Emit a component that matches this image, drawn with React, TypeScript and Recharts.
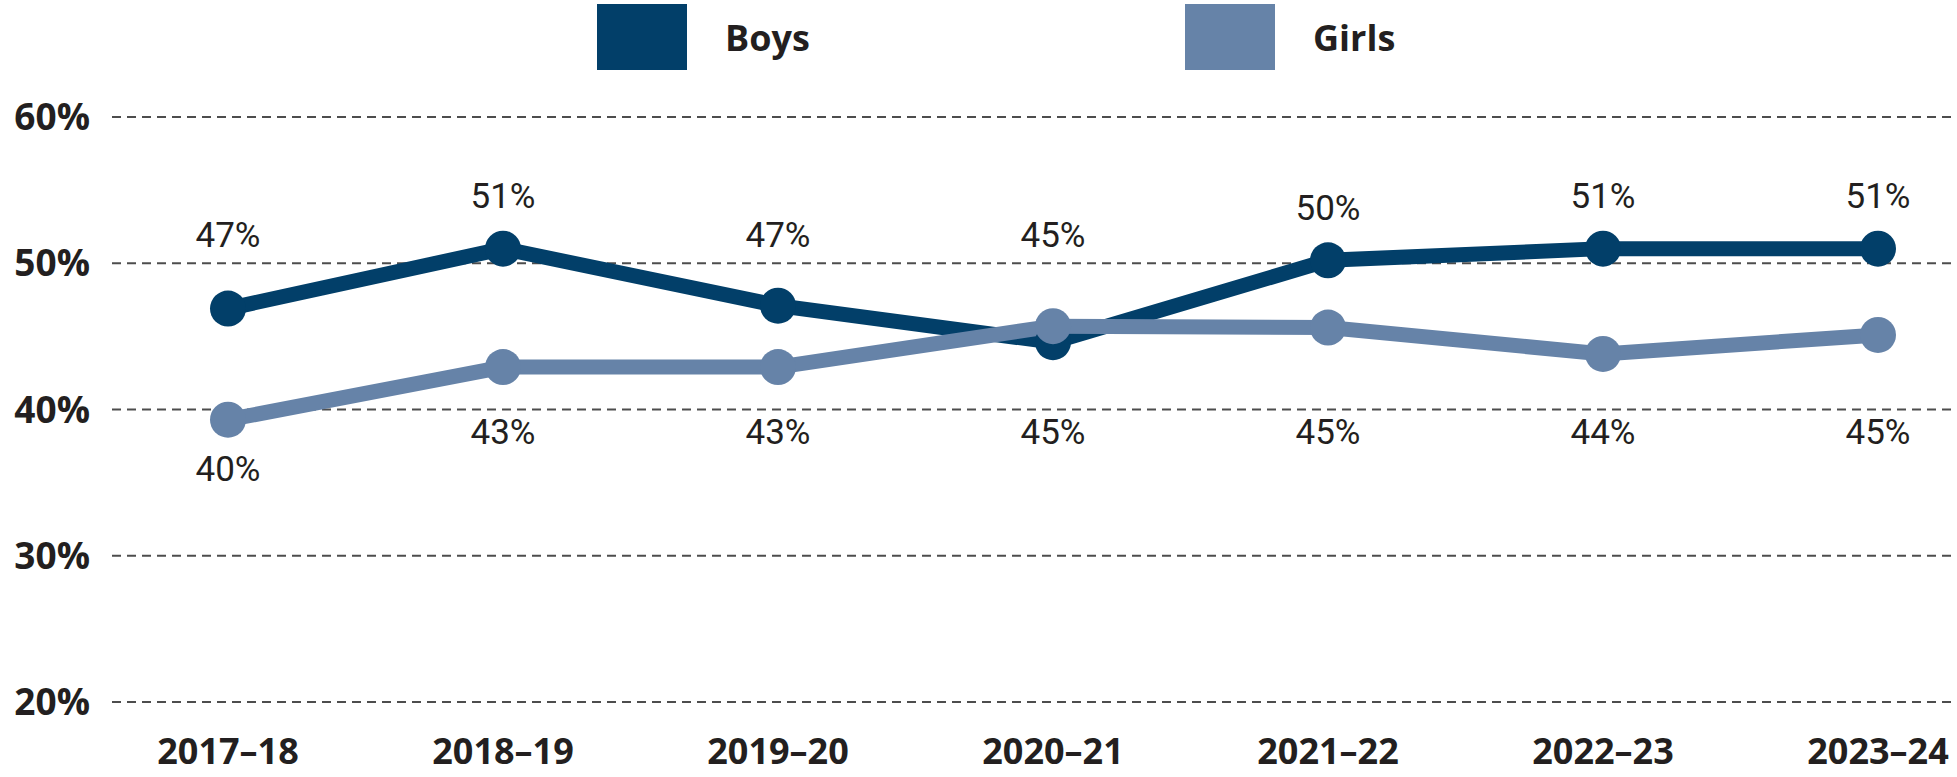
import { LineChart, Line, XAxis, YAxis, CartesianGrid, LabelList } from "recharts";

const years = ["2017–18", "2018–19", "2019–20", "2020–21", "2021–22", "2022–23", "2023–24"];
const boys = [46.9, 51.0, 47.1, 44.6, 50.2, 51.0, 51.0];
const girls = [39.3, 42.9, 42.9, 45.7, 45.6, 43.8, 45.1];
const boysLabels = [47, 51, 47, 45, 50, 51, 51];
const girlsLabels = [40, 43, 43, 45, 45, 44, 45];
const yTicks = [20, 30, 40, 50, 60];

const BOYS = "#023f69";
const GIRLS = "#6683a8";
const INK = "#231f20";

const data = years.map((year, i) => ({
  year,
  boys: boys[i],
  girls: girls[i],
  boysLabel: boysLabels[i],
  girlsLabel: girlsLabels[i],
}));

const labelStyle = { fontFamily: "Roboto", fontSize: 35, fill: INK };

// boys labels sit above the line, girls below; keep them clear of the other series
const BoysLabel = (p: any) => (
  <text x={p.x} y={Math.min(p.y - 52, 235)} textAnchor="middle" dominantBaseline="central" {...labelStyle}>
    {p.value}%
  </text>
);

const GirlsLabel = (p: any) => (
  <text x={p.x} y={Math.max(p.y + 50, 432)} textAnchor="middle" dominantBaseline="central" {...labelStyle}>
    {p.value}%
  </text>
);

function LegendItem({ color, name }: { color: string; name: string }) {
  return (
    <div style={{ width: 588, display: "flex", alignItems: "center" }}>
      <div style={{ width: 90, height: 66, background: color }} />
      <span style={{ marginLeft: 38, fontFamily: "Open Sans", fontWeight: 700, fontSize: 36, color: INK }}>{name}</span>
    </div>
  );
}

export default function App() {
  return (
    <div style={{ position: "absolute", left: 0, top: 0, width: 1957, height: 777, background: "#fff" }}>
      <LineChart width={1957} height={777} data={data} margin={{ top: 117, right: 0, bottom: 0, left: 0 }}>
        <CartesianGrid vertical={false} stroke="#4d4d4d" strokeWidth={2} strokeDasharray="9 6" />
        <XAxis
          dataKey="year"
          height={75}
          axisLine={false}
          tickLine={false}
          tickSize={0}
          tickMargin={36}
          padding={{ left: 116, right: 79 }}
          tick={{ fontFamily: "Open Sans", fontWeight: 700, fontSize: 36, fill: INK }}
        />
        <YAxis
          width={112}
          domain={[20, 60]}
          ticks={yTicks}
          axisLine={false}
          tickLine={false}
          tickSize={0}
          tickMargin={22}
          tickFormatter={(v) => `${v}%`}
          tick={{ fontFamily: "Open Sans", fontWeight: 700, fontSize: 37, fill: INK }}
        />
        <Line
          dataKey="boys"
          stroke={BOYS}
          strokeWidth={15}
          dot={{ r: 18, fill: BOYS, stroke: BOYS, strokeWidth: 0 }}
          isAnimationActive={false}
        >
          <LabelList dataKey="boysLabel" content={BoysLabel} />
        </Line>
        <Line
          dataKey="girls"
          stroke={GIRLS}
          strokeWidth={15}
          dot={{ r: 18, fill: GIRLS, stroke: GIRLS, strokeWidth: 0 }}
          isAnimationActive={false}
        >
          <LabelList dataKey="girlsLabel" content={GirlsLabel} />
        </Line>
      </LineChart>
      <div style={{ position: "absolute", left: 597, top: 4, display: "flex" }}>
        <LegendItem color={BOYS} name="Boys" />
        <LegendItem color={GIRLS} name="Girls" />
      </div>
    </div>
  );
}
